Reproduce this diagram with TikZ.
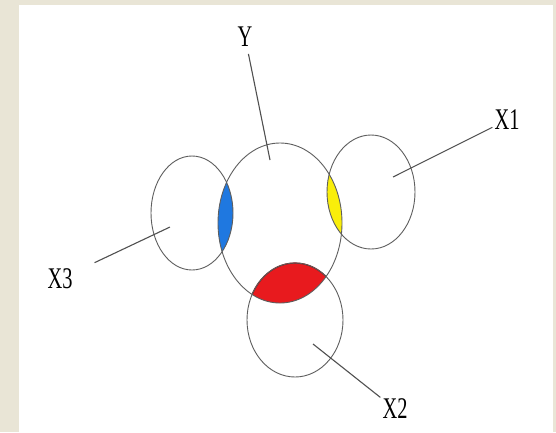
\documentclass[tikz,border=0pt]{standalone}
\usepackage{fontspec}
\setmainfont{Liberation Serif}
\usepackage{graphicx}
\usetikzlibrary{positioning}
\definecolor{PageBeige}{HTML}{E9E5D6}
\definecolor{LensBlue}{HTML}{1F78E0}
\definecolor{LensYellow}{HTML}{F9EE0A}
\definecolor{LensRed}{HTML}{E81A1E}
\definecolor{RimGray}{HTML}{5E5E5E}
\newcommand{\narrow}[1]{\scalebox{0.68}[1]{#1}}
\newcommand{\ringY}{(280,223) ellipse [x radius=62, y radius=80]}
\newcommand{\ringXi}{(371,192) ellipse [x radius=44, y radius=57]}
\newcommand{\ringXii}{(295,320) ellipse [x radius=48, y radius=57]}
\newcommand{\ringXiii}{(192,213) ellipse [x radius=41, y radius=57]}

\begin{document}
\begin{tikzpicture}[x=1pt,y=-1pt,
    rim/.style={draw=RimGray, line width=0.9pt},
    leader/.style={draw=RimGray!85!black, line width=1.1pt},
    lbl/.style={font=\fontsize{30}{30}\selectfont, inner sep=2pt}]
  % page
  \fill[PageBeige] (0,0) rectangle (556,432);
  \fill[white] (19,5) rectangle (553,432);
  \useasboundingbox (0,0) rectangle (556,432);

  % overlaps with Y
  \begin{scope}
    \clip \ringY;
    \fill[LensBlue] \ringXiii;
    \fill[LensYellow] \ringXi;
    \fill[LensRed] \ringXii;
    \draw[LensRed!55!black, line width=1.2pt] \ringXii;
  \end{scope}

  % sets
  \draw[rim] \ringY;
  \draw[rim] \ringXi;
  \draw[rim] \ringXii;
  \draw[rim] \ringXiii;

  % labels
  \node[lbl] (labY) at (245,37) {\narrow{Y}};
  \node[lbl] (labX1) at (507,120) {\narrow{X1}};
  \node[lbl] (labX2) at (395,409) {\narrow{X2}};
  \node[lbl] (labX3) at (60,279) {\narrow{X3}};

  \coordinate (tipY) at (270,160);
  \coordinate (tipX1) at (393,177);
  \coordinate (tipX2) at (313,344);
  \coordinate (tipX3) at (170,227);

  \draw[leader, shorten <=5pt] (labY) -- (tipY);
  \draw[leader] (labX1) -- (tipX1);
  \draw[leader] (labX2) -- (tipX2);
  \draw[leader, shorten <=22pt] (labX3) -- (tipX3);
\end{tikzpicture}
\end{document}
